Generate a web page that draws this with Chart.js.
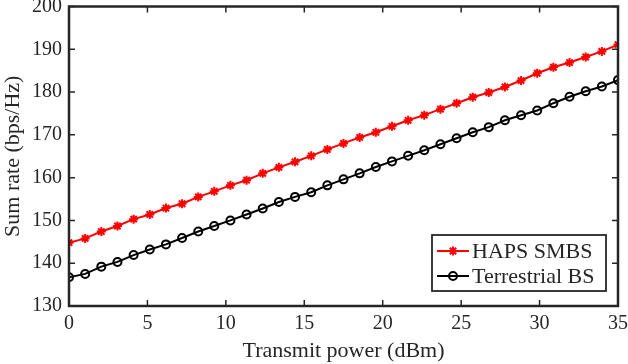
<!DOCTYPE html>
<html>
<head>
<meta charset="utf-8">
<script src="https://cdn.jsdelivr.net/npm/chart.js@4"></script>
<style>
  html, body { margin: 0; padding: 0; background: #fff; }
  #wrap { width: 628px; height: 364px; }
</style>
</head>
<body>
<div id="wrap"><canvas id="chart" width="628" height="364"></canvas></div>
<script>
// transmit power (dBm), 35 points between 0 and 35
const power = [0, 1.03, 2.06, 3.09, 4.12, 5.15, 6.18, 7.21, 8.24, 9.26, 10.29, 11.32,
  12.35, 13.38, 14.41, 15.44, 16.47, 17.5, 18.53, 19.56, 20.59, 21.62, 22.65, 23.68,
  24.71, 25.74, 26.76, 27.79, 28.82, 29.85, 30.88, 31.91, 32.94, 33.97, 35];

const haps = [144.8, 145.8, 147.4, 148.7, 150.3, 151.4, 152.9, 153.9, 155.5, 156.8,
  158.2, 159.4, 161.0, 162.4, 163.7, 165.1, 166.6, 168.0, 169.4, 170.6, 172.0, 173.4,
  174.6, 176.0, 177.4, 178.8, 179.9, 181.2, 182.7, 184.4, 185.8, 186.9, 188.2, 189.5, 191.1];

const terrestrial = [136.7, 137.5, 139.2, 140.3, 141.9, 143.2, 144.4, 145.9, 147.4, 148.7,
  150.0, 151.4, 152.8, 154.3, 155.5, 156.6, 158.2, 159.6, 161.0, 162.5, 163.8, 165.1,
  166.4, 167.8, 169.2, 170.6, 171.8, 173.4, 174.6, 175.7, 177.4, 178.9, 180.2, 181.3, 182.8];

const xTicks = [0, 5, 10, 15, 20, 25, 30, 35];
const yTicks = [130, 140, 150, 160, 170, 180, 190, 200];
const seriesNames = ['HAPS SMBS', 'Terrestrial BS'];

const axisColor = '#262626';
const fontFamily = '"Liberation Serif", "DejaVu Serif", serif';

function toPoints(xs, ys) {
    return xs.map((x, i) => ({ x: x, y: ys[i] }));
}

// MATLAB style box with inward ticks on all four sides, plus legend in the corner
const matlabBox = {
    id: 'matlabBox',
    afterDatasetsDraw(chart) {
        const ctx = chart.ctx;
        const a = chart.chartArea;
        const xs = chart.scales.x;
        const ys = chart.scales.y;
        const tl = 6;
        ctx.save();
        ctx.strokeStyle = axisColor;
        ctx.lineWidth = 1.5;
        ctx.beginPath();
        xTicks.forEach(v => {
            const px = xs.getPixelForValue(v);
            ctx.moveTo(px, a.bottom); ctx.lineTo(px, a.bottom - tl);
            ctx.moveTo(px, a.top); ctx.lineTo(px, a.top + tl);
        });
        yTicks.forEach(v => {
            const py = ys.getPixelForValue(v);
            ctx.moveTo(a.left, py); ctx.lineTo(a.left + tl, py);
            ctx.moveTo(a.right, py); ctx.lineTo(a.right - tl, py);
        });
        ctx.stroke();
        ctx.lineWidth = 2.5;
        ctx.strokeRect(a.left, a.top, a.right - a.left, a.bottom - a.top);

        // legend
        const lx = 432, ly = 235, lw = 174, lh = 56;
        ctx.fillStyle = '#fff';
        ctx.fillRect(lx, ly, lw, lh);
        ctx.lineWidth = 1.8;
        ctx.strokeRect(lx, ly, lw, lh);
        ctx.font = '22px ' + fontFamily;
        ctx.textBaseline = 'middle';
        chart.data.datasets.forEach((ds, i) => {
            const cy = ly + 16 + i * 25;
            ctx.strokeStyle = ds.borderColor;
            ctx.lineWidth = 2;
            ctx.beginPath();
            ctx.moveTo(lx + 5, cy); ctx.lineTo(lx + 37, cy);
            ctx.stroke();
            ctx.fillStyle = 'rgba(0,0,0,0)';
            Chart.helpers.drawPoint(ctx, {
                pointStyle: ds.pointStyle, radius: ds.pointRadius, borderWidth: ds.pointBorderWidth
            }, lx + 21, cy);
            ctx.fillStyle = axisColor;
            ctx.fillText(ds.label, lx + 40, cy + 1);
        });
        ctx.restore();
    }
};

const ctx = document.getElementById('chart').getContext('2d');
new Chart(ctx, {
    type: 'line',
    data: {
        datasets: [{
            label: seriesNames[0],
            data: toPoints(power, haps),
            borderColor: '#ff0000',
            backgroundColor: 'rgba(0,0,0,0)',
            pointBorderColor: '#ff0000',
            borderWidth: 2,
            pointStyle: 'star',
            pointRadius: 4.5,
            pointBorderWidth: 2,
            tension: 0,
            fill: false
        }, {
            label: seriesNames[1],
            data: toPoints(power, terrestrial),
            borderColor: '#000000',
            backgroundColor: 'rgba(0,0,0,0)',
            pointBorderColor: '#000000',
            borderWidth: 2,
            pointStyle: 'circle',
            pointRadius: 4,
            pointBorderWidth: 2,
            tension: 0,
            fill: false
        }]
    },
    options: {
        responsive: false,
        animation: false,
        layout: { padding: { left: 0, right: 10, top: 6, bottom: 0 } },
        scales: {
            x: {
                type: 'linear',
                min: 0,
                max: 35,
                afterFit: s => { s.height = 58; s.paddingLeft = 0; s.paddingRight = 0; },
                afterBuildTicks: s => { s.ticks = xTicks.map(v => ({ value: v })); },
                grid: { display: false, drawTicks: false },
                border: { display: false },
                ticks: { color: axisColor, padding: 6, font: { family: fontFamily, size: 20 }, maxRotation: 0 },
                title: {
                    display: true,
                    text: 'Transmit power (dBm)',
                    color: axisColor,
                    padding: { top: 0, bottom: 0 },
                    font: { family: fontFamily, size: 22 }
                }
            },
            y: {
                type: 'linear',
                min: 130,
                max: 200,
                afterFit: s => { s.width = 69; s.paddingTop = 0; s.paddingBottom = 0; },
                afterBuildTicks: s => { s.ticks = yTicks.map(v => ({ value: v })); },
                grid: { display: false, drawTicks: false },
                border: { display: false },
                ticks: { color: axisColor, padding: 7, font: { family: fontFamily, size: 20 } },
                title: {
                    display: true,
                    text: 'Sum rate (bps/Hz)',
                    color: axisColor,
                    padding: { top: 0, bottom: 0 },
                    font: { family: fontFamily, size: 22 }
                }
            }
        },
        plugins: {
            legend: { display: false },
            tooltip: { enabled: false }
        }
    },
    plugins: [matlabBox]
});
</script>
</body>
</html>
